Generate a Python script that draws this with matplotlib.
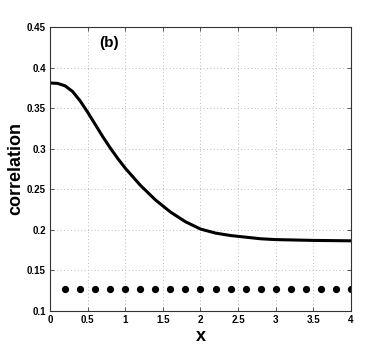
import numpy as np
import matplotlib
matplotlib.use("Agg")
import matplotlib.pyplot as plt

# curve
x_curve = [0.0, 0.1, 0.2, 0.3, 0.4, 0.5, 0.6, 0.7, 0.8, 0.9, 1.0, 1.2, 1.4,
           1.6, 1.8, 2.0, 2.2, 2.4, 2.6, 2.8, 3.0, 3.5, 4.0]
corr_curve = [0.381, 0.3805, 0.3775, 0.3705, 0.359, 0.345, 0.330, 0.315, 0.301,
              0.288, 0.276, 0.255, 0.237, 0.222, 0.210, 0.201, 0.196, 0.193,
              0.191, 0.189, 0.188, 0.187, 0.1865]

# dotted series
x_dots = [0.2, 0.4, 0.6, 0.8, 1.0, 1.2, 1.4, 1.6, 1.8, 2.0, 2.2, 2.4, 2.6,
          2.8, 3.0, 3.2, 3.4, 3.6, 3.8, 4.0]
corr_dots = [0.127] * len(x_dots)

xticks = [0, 0.5, 1, 1.5, 2, 2.5, 3, 3.5, 4]
xticklabels = ["0", "0.5", "1", "1.5", "2", "2.5", "3", "3.5", "4"]
yticks = [0.1, 0.15, 0.2, 0.25, 0.3, 0.35, 0.4, 0.45]
yticklabels = ["0.1", "0.15", "0.2", "0.25", "0.3", "0.35", "0.4", "0.45"]

plt.rcParams["font.family"] = ["Liberation Sans", "DejaVu Sans"]

fig = plt.figure(figsize=(3.88, 3.5), dpi=100)
ax = fig.add_axes([0.1289, 0.1114, 0.7757, 0.8115])

ax.plot(x_curve, corr_curve, color="black", linewidth=2.2)
ax.plot(x_dots, corr_dots, linestyle="none", marker="o", markersize=4.2,
        color="black")

ax.set_xlim(0, 4)
ax.set_ylim(0.1, 0.45)
ax.set_xticks(xticks)
ax.set_xticklabels(xticklabels, fontsize=7, fontweight="bold")
ax.set_yticks(yticks)
ax.set_yticklabels(yticklabels, fontsize=7, fontweight="bold")
ax.tick_params(direction="in", length=3, width=0.6, top=True, right=True,
               pad=3, color="#444444")
ax.grid(True, linestyle=(0, (1, 2.5)), color="#bbbbbb", linewidth=0.7)
for s in ax.spines.values():
    s.set_linewidth(0.8)
    s.set_color("#333333")

ax.set_xlabel("x", fontsize=13, fontweight="bold")
ax.xaxis.set_label_coords(0.5, -0.06)
ax.set_ylabel("correlation", fontsize=13, fontweight="bold")
ax.yaxis.set_label_coords(-0.085, 0.5)
ax.text(0.66, 0.43, "(b)", fontsize=11, fontweight="bold", va="center")

fig.savefig("out.png", dpi=100)
